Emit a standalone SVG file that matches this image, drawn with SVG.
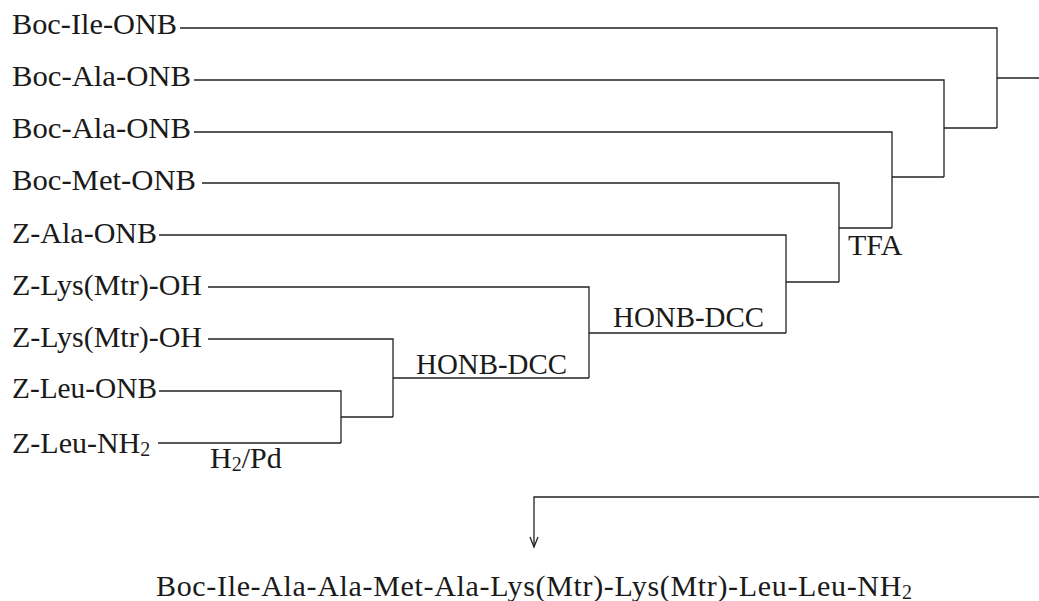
<svg xmlns="http://www.w3.org/2000/svg" width="1039" height="601" viewBox="0 0 1039 601">
<style>
text{font-family:"Liberation Serif","Times New Roman",serif;font-size:30px;fill:#1a1a1a}
.sub{font-size:20px}
.c{fill:none;stroke:#222;stroke-width:1.3}
</style>
<rect width="1039" height="601" fill="#fff"/>
<g id="connectors">
<polyline class="c" points="180,28 997,28 997,128"/>
<polyline class="c" points="194,80 944,80 944,177"/>
<polyline class="c" points="194,132 892,132 892,228"/>
<polyline class="c" points="202,183 839,183 839,282"/>
<polyline class="c" points="159,235 786,235 786,333"/>
<polyline class="c" points="208,287 589,287 589,378"/>
<polyline class="c" points="208,339 393,339 393,417"/>
<polyline class="c" points="159,391 341,391 341,443"/>
<polyline class="c" points="158,443 341,443"/>
<line class="c" x1="341" y1="417" x2="393" y2="417"/>
<line class="c" x1="393" y1="378" x2="589" y2="378"/>
<line class="c" x1="589" y1="333" x2="786" y2="333"/>
<line class="c" x1="786" y1="282" x2="839" y2="282"/>
<line class="c" x1="839" y1="228" x2="892" y2="228"/>
<line class="c" x1="892" y1="177" x2="944" y2="177"/>
<line class="c" x1="944" y1="128" x2="997" y2="128"/>
<line class="c" x1="997" y1="78" x2="1039" y2="78"/>
<polyline class="c" points="1039,497 534,497 534,547"/>
<polyline class="c" points="530,537 534,547 538,537"/>
<text id="lbl-h2pd" x="210" y="468">H<tspan class="sub" dy="3">2</tspan><tspan dy="-3">/Pd</tspan></text>
<text id="lbl-honb1" x="416" y="374" textLength="151" lengthAdjust="spacingAndGlyphs">HONB-DCC</text>
<text id="lbl-honb2" x="613" y="327" textLength="151" lengthAdjust="spacingAndGlyphs">HONB-DCC</text>
<text id="lbl-tfa" x="848" y="255">TFA</text>
</g>
<g id="n1"><text x="12" y="34" textLength="165" lengthAdjust="spacingAndGlyphs">Boc-Ile-ONB</text></g>
<g id="n2"><text x="12" y="86" textLength="179" lengthAdjust="spacingAndGlyphs">Boc-Ala-ONB</text></g>
<g id="n3"><text x="12" y="138" textLength="179" lengthAdjust="spacingAndGlyphs">Boc-Ala-ONB</text></g>
<g id="n4"><text x="12" y="190" textLength="184" lengthAdjust="spacingAndGlyphs">Boc-Met-ONB</text></g>
<g id="n5"><text x="12" y="243" textLength="145" lengthAdjust="spacingAndGlyphs">Z-Ala-ONB</text></g>
<g id="n6"><text x="12" y="295" textLength="190" lengthAdjust="spacingAndGlyphs">Z-Lys(Mtr)-OH</text></g>
<g id="n7"><text x="12" y="347" textLength="190" lengthAdjust="spacingAndGlyphs">Z-Lys(Mtr)-OH</text></g>
<g id="n8"><text x="12" y="398" textLength="145" lengthAdjust="spacingAndGlyphs">Z-Leu-ONB</text></g>
<g id="n9"><text x="12" y="453">Z-Leu-NH<tspan class="sub" dy="3">2</tspan></text></g>
<g id="product"><text x="156" y="596" textLength="756" lengthAdjust="spacing">Boc-Ile-Ala-Ala-Met-Ala-Lys(Mtr)-Lys(Mtr)-Leu-Leu-NH<tspan class="sub" dy="3">2</tspan></text></g>
</svg>
